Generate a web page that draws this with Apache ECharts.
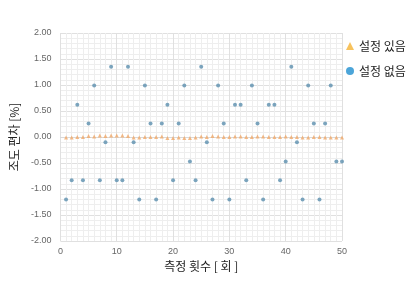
<!DOCTYPE html>
<html><head><meta charset="utf-8">
<script src="https://cdn.jsdelivr.net/npm/echarts@6/dist/echarts.min.js"></script>
<style>html,body{margin:0;padding:0;background:#fff}#c{width:417px;height:289px}</style>
</head><body><div id="c"></div>
<script>
const runs = Array.from({length: 50}, (_, k) => k + 1);
const withSetting = [-0.01,-0.01,0.00,0.00,0.02,0.01,0.03,0.02,0.03,0.03,0.03,0.02,-0.01,-0.01,0.00,0.00,0.00,0.01,-0.02,-0.02,-0.01,-0.02,-0.02,-0.01,0.01,0.00,0.02,0.01,0.00,0.00,0.01,0.01,0.00,0.00,0.01,0.01,0.00,0.00,0.00,0.01,0.00,0.00,-0.01,-0.01,0.00,0.00,-0.01,-0.01,-0.01,-0.01];
const withoutSetting = [-1.20,-0.83,0.62,-0.83,0.26,0.99,-0.83,-0.10,1.35,-0.83,-0.83,1.35,-0.10,-1.20,0.99,0.26,-1.20,0.26,0.62,-0.83,0.26,0.99,-0.47,-0.83,1.35,-0.10,-1.20,0.99,0.26,-1.20,0.62,0.62,-0.83,0.99,0.26,-1.20,0.62,0.62,-0.83,-0.47,1.35,-0.10,-1.20,0.99,0.26,-1.20,0.26,0.99,-0.47,-0.47];
const seriesNames = ['설정 있음', '설정 없음'];

const chart = echarts.init(document.getElementById('c'));
chart.setOption({
  animation: false,
  grid: {left: 59, right: 75, top: 33, bottom: 48},
  legend: {
    orient: 'vertical', left: 341, top: 35, itemGap: 13,
    itemWidth: 8, itemHeight: 8,
    textStyle: {fontSize: 12, color: '#222', fontFamily: 'Noto Sans CJK KR'},
    data: [
      {name: seriesNames[0], icon: 'triangle', itemStyle: {color: '#f5b335'}},
      {name: seriesNames[1], icon: 'circle', itemStyle: {color: '#1f8fd0'}}
    ]
  },
  xAxis: {
    type: 'value', min: 0, max: 50, interval: 10,
    name: '측정 횟수 [ 회 ]', nameLocation: 'middle', nameGap: 17,
    nameTextStyle: {fontSize: 12, color: '#222', fontFamily: 'Noto Sans CJK KR'},
    axisLine: {lineStyle: {color: '#d9d9d9'}}, axisTick: {show: false},
    axisLabel: {fontSize: 9, color: '#666', margin: 6},
    splitLine: {lineStyle: {color: '#e0e0e0'}},
    minorTick: {show: false, splitNumber: 10},
    minorSplitLine: {show: true, lineStyle: {color: '#eeeeee'}}
  },
  yAxis: {
    type: 'value', min: -2, max: 2, interval: 0.5,
    name: '조도 편차 [%]', nameLocation: 'middle', nameGap: 36,
    nameTextStyle: {fontSize: 12, color: '#222', fontFamily: 'Noto Sans CJK KR'},
    axisLine: {show: false}, axisTick: {show: false},
    axisLabel: {fontSize: 9, color: '#666', margin: 9, formatter: v => v.toFixed(2)},
    splitLine: {lineStyle: {color: '#e0e0e0'}},
    minorTick: {show: false, splitNumber: 5},
    minorSplitLine: {show: true, lineStyle: {color: '#eeeeee'}}
  },
  series: [
    {name: seriesNames[1], type: 'scatter', symbol: 'circle', symbolSize: 4,
     itemStyle: {color: '#5b8fae'}, z: 2,
     data: runs.map((r, k) => [r, withoutSetting[k]])},
    {name: seriesNames[0], type: 'scatter', symbol: 'triangle', symbolSize: 4,
     itemStyle: {color: '#f0a868'}, z: 3,
     data: runs.map((r, k) => [r, withSetting[k]])}
  ]
});
</script></body></html>
